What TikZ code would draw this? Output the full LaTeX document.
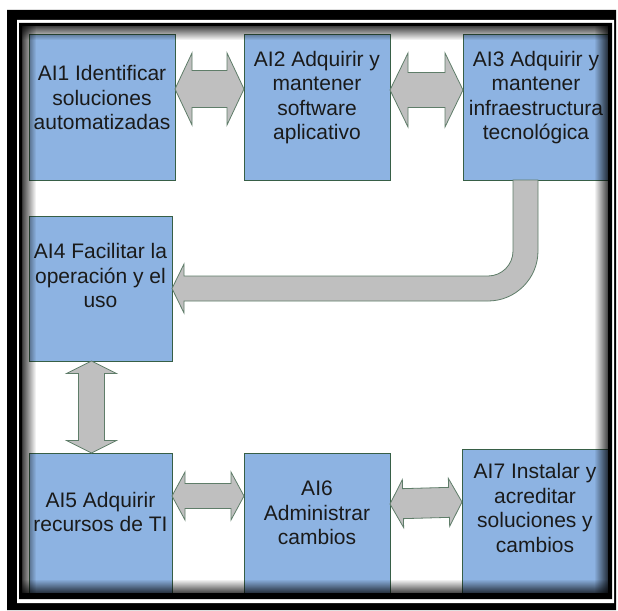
\documentclass[tikz,border=0pt]{standalone}
\usepackage{fontspec}
\setmainfont{Liberation Sans}
\usetikzlibrary{calc,fadings}

\definecolor{boxfill}{HTML}{8DB3E2}
\definecolor{boxline}{RGB}{55,95,70}
\definecolor{arrfill}{HTML}{BFBFBF}
\definecolor{arrline}{RGB}{95,125,105}
\definecolor{captext}{HTML}{1A1A1A}

% Double-headed block arrow between two points:
% #1 tip A, #2 tip B, #3 half head width, #4 half shaft width, #5 head length
\newcommand\dblarrow[5]{%
  \path (#1) coordinate (dA) (#2) coordinate (dB);
  \path ($(dA)!#5!(dB)$) coordinate (hA) ($(dB)!#5!(dA)$) coordinate (hB);
  \draw[blockarrow] (dA) -- ($(hA)!#3!90:(dB)$) -- ($(hA)!#4!90:(dB)$)
    -- ($(hB)!#4!-90:(dA)$) -- ($(hB)!#3!-90:(dA)$) -- (dB)
    -- ($(hB)!#3!90:(dA)$) -- ($(hB)!#4!90:(dA)$)
    -- ($(hA)!#4!-90:(dB)$) -- ($(hA)!#3!-90:(dB)$) -- cycle;
}

\begin{document}
\begin{tikzpicture}[x=1pt,y=-1pt,
  stage/.style={draw=boxline, line width=1pt, fill=boxfill,
    minimum width=146pt, minimum height=145pt,
    inner sep=0pt, outer sep=0pt, anchor=north west},
  caption/.style={font=\fontsize{21}{24.5}\selectfont, align=center,
    text=captext, inner sep=0pt},
  blockarrow/.style={fill=arrfill, draw=arrline, line width=0.8pt,
    line join=miter}]

\useasboundingbox (0,0) rectangle (618,610);
\fill[white] (0,0) rectangle (618,610);

% process boxes
\node[stage] (ai1) at (29,35) {};
\node[stage] (ai2) at (244,35) {};
\node[stage] (ai3) at (463,35) {};
\node[stage, minimum width=143pt] (ai4) at (29,216) {};
\node[stage, minimum width=143pt] (ai5) at (29,453) {};
\node[stage] (ai6) at (244,453) {};
\node[stage] (ai7) at (462,449) {};

% box texts
\node[caption] (t1) at ([yshift=10pt]ai1.center) {AI1 Identificar\\soluciones\\automatizadas};
\node[caption] (t2) at ([yshift=10pt]ai2.center) {AI2 Adquirir y\\mantener\\software\\aplicativo};
\node[caption] (t3) at ([yshift=10pt]ai3.center) {AI3 Adquirir y\\mantener\\infraestructura\\tecnológica};
\node[caption] (t4) at ([yshift=13pt]ai4.center) {AI4 Facilitar la\\operación y el\\uso};
\node[caption] (t5) at ([yshift=13.5pt]ai5.center) {AI5 Adquirir\\recursos de TI};
\node[caption] (t6) at ([yshift=12.5pt]ai6.center) {AI6\\Administrar\\cambios};
\node[caption] (t7) at ([yshift=13.5pt]ai7.center) {AI7 Instalar y\\acreditar\\soluciones y\\cambios};

% connectors
\dblarrow{[yshift=18.5pt]ai1.east}{[yshift=18.5pt]ai2.west}{36pt}{18.5pt}{17pt}
\dblarrow{[yshift=17.5pt]ai2.east}{[yshift=17.5pt]ai3.west}{37pt}{17.5pt}{18pt}
\dblarrow{[xshift=-9pt]ai4.south}{[xshift=-9pt]ai5.north}{25pt}{13pt}{12.5pt}
\dblarrow{[yshift=29.5pt]ai5.east}{[yshift=29.5pt]ai6.west}{24pt}{12.5pt}{13pt}
\dblarrow{[yshift=21.5pt]ai6.east}{[yshift=19.5pt]ai7.west}{24pt}{15pt}{13pt}

% bent arrow from AI3 down and back to AI4
\draw[blockarrow] ([xshift=-23pt]ai3.south) -- (513,251)
  .. controls (513,264.8) and (501.8,276) .. (488,276)
  -- (184,276) -- (184,264) -- (ai4.east) -- (184,313) -- (184,301)
  -- (488,301) .. controls (515.6,301) and (538,278.6) .. (538,251)
  -- ([xshift=2pt]ai3.south) -- cycle;

% inner shadow of the frame
\fill[black, opacity=0.75, path fading=east]  (22,26) rectangle (36,593);
\fill[black, opacity=0.75, path fading=south] (22,26) rectangle (608,40);
\fill[black, opacity=0.75, path fading=west]  (594,26) rectangle (608,593);
\fill[black, opacity=0.75, path fading=north] (22,579) rectangle (608,593);

% frame: thick black band, white stripe, thin black band
\fill[black, even odd rule] (7,10) rectangle (616,610) (17,20) rectangle (614,603);
\fill[white, even odd rule] (17,20) rectangle (614,603) (19,23) rectangle (612,599);
\fill[black, even odd rule] (19,23) rectangle (612,599) (22,26) rectangle (608,593);
\end{tikzpicture}
\end{document}
